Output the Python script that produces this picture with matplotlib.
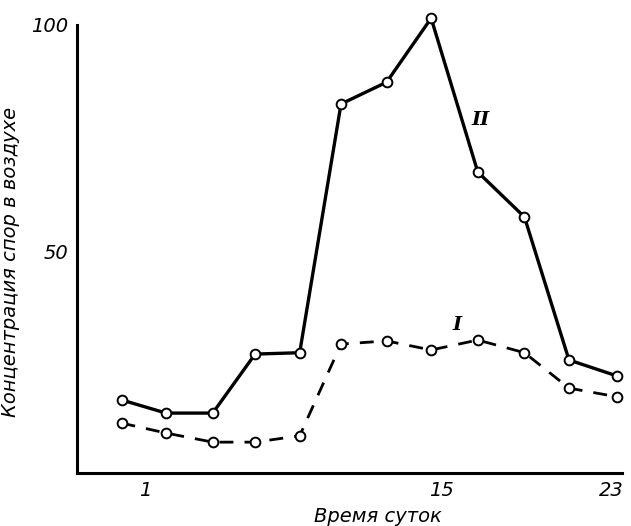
import matplotlib
matplotlib.use("Agg")
import matplotlib.pyplot as plt

# hours and spore concentration
hours = [-0.1, 2.0, 4.2, 6.2, 8.3, 10.25, 12.4, 14.5, 16.7, 18.9, 21.0, 23.25]
series_2 = [17.4, 14.5, 14.5, 27.5, 27.8, 82.6, 87.4, 101.5, 67.6, 57.7, 26.2, 22.7]
series_1 = [12.3, 10.1, 8.1, 8.1, 9.5, 29.7, 30.4, 28.4, 30.6, 27.8, 20.0, 18.1]

x_ticks = [1, 15, 23]
y_ticks = [50, 100]

plt.rcParams['font.family'] = ['DejaVu Sans']

fig = plt.figure(figsize=(6.31, 5.26), dpi=100)
ax = fig.add_axes([77 / 631, 53 / 526, 545 / 631, 448 / 526])

marker = dict(marker="o", markersize=7, markerfacecolor="white",
              markeredgecolor="black", markeredgewidth=1.4, clip_on=False)
ax.plot(hours, series_2, color="black", lw=2.4, **marker)
ax.plot(hours, series_1, color="black", lw=2.0, dashes=(5, 4), **marker)

ax.text(16.85, 79, "II", fontsize=14, fontweight="bold", fontstyle="italic",
        family="DejaVu Serif", ha="center", va="center")
ax.text(15.7, 33.9, "I", fontsize=14, fontweight="bold", fontstyle="italic",
        family="DejaVu Serif", ha="center", va="center")

ax.set_xlim(-2.2, 23.5)
ax.set_ylim(1.3, 100)
ax.set_xticks(x_ticks)
ax.set_xticklabels([str(t) for t in x_ticks])
ax.set_yticks(y_ticks)
ax.set_yticklabels([str(t) for t in y_ticks])
ax.tick_params(length=0, labelsize=14, pad=6)
for lab in ax.get_xticklabels() + ax.get_yticklabels():
    lab.set_fontstyle("italic")

for s in ["top", "right"]:
    ax.spines[s].set_visible(False)
for s in ["left", "bottom"]:
    ax.spines[s].set_linewidth(2.2)

ax.set_xlabel("Время суток", fontsize=14, fontstyle="italic")
ax.xaxis.set_label_coords((378 - 77) / 545, -(507 - 473) / 448)
ax.set_ylabel("Концентрация спор в воздухе", fontsize=14, fontstyle="italic")
ax.yaxis.set_label_coords(-(77 - 20) / 545, (473 - 262) / 448)

fig.savefig("out.png", dpi=100, facecolor="white")
